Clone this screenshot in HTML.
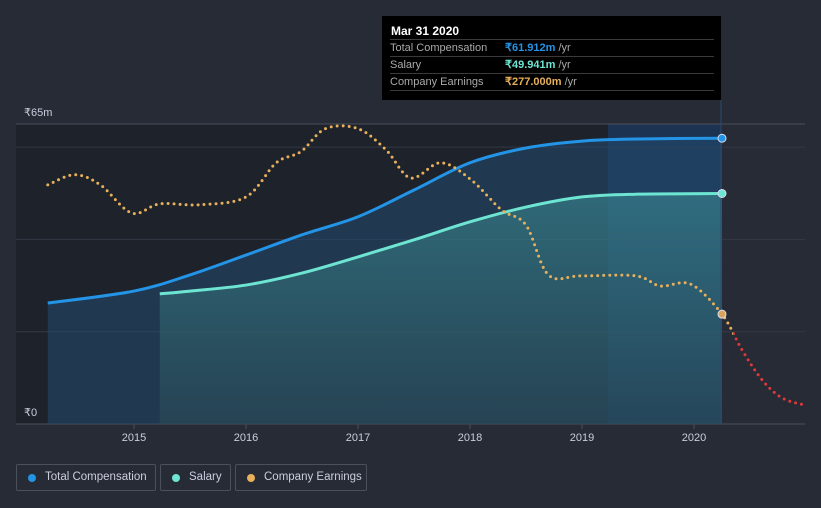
<!DOCTYPE html>
<html><head><meta charset="utf-8"><style>
body{margin:0;background:#262b36;font-family:"Liberation Sans",sans-serif;}
#wrap{position:relative;width:821px;height:508px;overflow:hidden;background:#262b36;}
svg{position:absolute;left:0;top:0;}
.tt{position:absolute;left:382px;top:16px;width:339px;height:84px;background:#000;color:#fff;font-size:11px;}
.tt .t{position:absolute;left:9px;top:8px;font-weight:bold;font-size:12px;}
.tt .r{position:absolute;left:8px;width:324px;height:16px;border-top:1px solid #3a3a3a;color:#aaa;line-height:16px;white-space:nowrap;}
.tt .r span.v{position:absolute;left:115px;font-weight:bold;}
.tt .r span.u{color:#aaa;font-weight:normal;}
.leg{position:absolute;top:464px;border:1px solid #4a505c;border-radius:2px;color:#ccd;font-size:11.5px;line-height:25px;box-sizing:border-box;height:27px;white-space:nowrap;}
.leg i{position:absolute;left:11px;top:9px;width:8px;height:8px;border-radius:50%;}
.leg span{position:absolute;left:28px;}
</style></head><body>
<div id="wrap">
<svg id="chart" width="821" height="508"></svg>
<div class="tt">
 <div class="t">Mar 31 2020</div>
 <div class="r" style="top:23px">Total Compensation<span class="v" style="color:#2394e6">₹61.912m <span class="u">/yr</span></span></div>
 <div class="r" style="top:40px">Salary<span class="v" style="color:#6ee5d2">₹49.941m <span class="u">/yr</span></span></div>
 <div class="r" style="top:57px;border-bottom:1px solid #3a3a3a">Company Earnings<span class="v" style="color:#e8b05a">₹277.000m <span class="u">/yr</span></span></div>
</div>
<div class="leg" style="left:16px;width:140px"><i style="background:#2394e6"></i><span>Total Compensation</span></div>
<div class="leg" style="left:160px;width:71px"><i style="background:#6ee5d2"></i><span>Salary</span></div>
<div class="leg" style="left:235px;width:132px"><i style="background:#e8b05a"></i><span>Company Earnings</span></div>
</div>
<script>
const yearTicks=[2015,2016,2017,2018,2019,2020];
const yTickVals=[0,20,40,60,65];
const yTickLabels={0:"₹0",65:"₹65m"};
const totalDates=[2014.23,2015,2015.5,2016,2016.5,2017,2017.5,2018,2018.5,2019,2019.5,2020.25];
const totalValues=[26.2,28.8,32.3,36.6,41,44.9,50.7,56.6,59.8,61.3,61.75,61.912];
const salaryDates=[2015.23,2015.5,2016,2016.5,2017,2017.5,2018,2018.5,2019,2019.5,2020.25];
const salaryValues=[28.2,28.8,30.1,32.7,36.2,39.9,43.8,47,49.2,49.8,49.941];
const earnDates=[2014.23,2014.47,2014.7,2014.98,2015.23,2015.59,2016,2016.27,2016.49,2016.71,2017,2017.25,2017.47,2017.74,2018.01,2018.28,2018.5,2018.7,2018.99,2019.48,2019.7,2019.97,2020.25,2020.43,2020.61,2020.79,2021.01];
const earnValues=[51.8,54,51.8,45.7,47.7,47.5,49.2,56.6,59,64,64,59.4,53.3,56.6,52.9,46.4,43.1,32.3,32.1,32.1,29.9,30.3,23.8,16,9.5,5.6,4];
const X=y=>134+(y-2015)*112, Y=v=>424-v*300/65;
const svg=document.getElementById('chart'),NS='http://www.w3.org/2000/svg';
function mk(t,a,p){const e=document.createElementNS(NS,t);for(const k in a)e.setAttribute(k,a[k]);(p||svg).appendChild(e);return e;}
function pathD(xs,vs){const p=xs.map((d,i)=>[X(d),Y(vs[i])]);let d='M'+p[0][0]+','+p[0][1];
for(let i=0;i<p.length-1;i++){const p0=p[i-1]||p[i],p1=p[i],p2=p[i+1],p3=p[i+2]||p2;
d+=' C'+(p1[0]+(p2[0]-p0[0])/6)+','+(p1[1]+(p2[1]-p0[1])/6)+' '+(p2[0]-(p3[0]-p1[0])/6)+','+(p2[1]-(p3[1]-p1[1])/6)+' '+p2[0]+','+p2[1];}return d;}
const defs=mk('defs',{});
defs.innerHTML='<linearGradient id="gs" x1="0" y1="0" x2="0" y2="1"><stop offset="0" stop-color="#3a8a92" stop-opacity="0.8"/><stop offset="1" stop-color="#2a4a55" stop-opacity="0.8"/></linearGradient><clipPath id="cl"><rect x="0" y="0" width="733" height="508"/></clipPath><clipPath id="cr"><rect x="733" y="0" width="100" height="508"/></clipPath>';
let e=mk('rect',{x:16,y:124,width:592,height:300,fill:'#1e222b'});

e=mk('rect',{x:608,y:124,width:113,height:300,fill:'#1d3352'});

yTickVals.forEach(v=>{e=mk('line',{x1:16,x2:805,y1:Y(v),y2:Y(v),stroke:v==0||v==65?'#4a4f5a':'#333945','stroke-width':1});

if(yTickLabels[v]){e=mk('text',{x:24,y:Y(v)-8,fill:'#ccd','font-size':11});e.textContent=yTickLabels[v];
}});
yearTicks.forEach(y=>{e=mk('line',{x1:X(y),x2:X(y),y1:424,y2:429,stroke:'#4a4f5a'});

e=mk('text',{x:X(y),y:441,fill:'#ccd','font-size':11,'text-anchor':'middle'});e.textContent=y;
});
const td=pathD(totalDates,totalValues);
e=mk('path',{d:td+' L'+X(totalDates[totalDates.length-1])+',424 L'+X(totalDates[0])+',424Z',fill:'#234a70','fill-opacity':0.55});

const sd=pathD(salaryDates,salaryValues);
e=mk('path',{d:sd+' L'+X(salaryDates[salaryDates.length-1])+',424 L'+X(salaryDates[0])+',424Z',fill:'url(#gs)','fill-opacity':0.75});

e=mk('path',{d:td,fill:'none',stroke:'#2394e6','stroke-width':3});

e=mk('path',{d:sd,fill:'none',stroke:'#6ee5d2','stroke-width':3});

const ed=pathD(earnDates,earnValues);
e=mk('path',{d:ed,fill:'none',stroke:'#e8b05a','stroke-width':3,'stroke-dasharray':'0 6','stroke-linecap':'round','clip-path':'url(#cl)'});

e=mk('path',{d:ed,fill:'none',stroke:'#e0393a','stroke-width':3,'stroke-dasharray':'0 6','stroke-linecap':'round','clip-path':'url(#cr)'});

e=mk('line',{x1:721,x2:721,y1:100,y2:424,stroke:'#2a4a70','stroke-width':1});

[[totalDates,totalValues,'#2394e6','total-compensation-marker'],[salaryDates,salaryValues,'#6ee5d2','salary-marker']].forEach(s=>{const n=s[0].length-1;
e=mk('circle',{cx:X(s[0][n]),cy:Y(s[1][n]),r:4,fill:s[2],stroke:'#dde','stroke-width':1});
});
e=mk('circle',{cx:X(2020.25),cy:Y(earnValues[22]),r:4,fill:'#d9a55a',stroke:'#dde','stroke-width':1});

</script>
</body></html>
